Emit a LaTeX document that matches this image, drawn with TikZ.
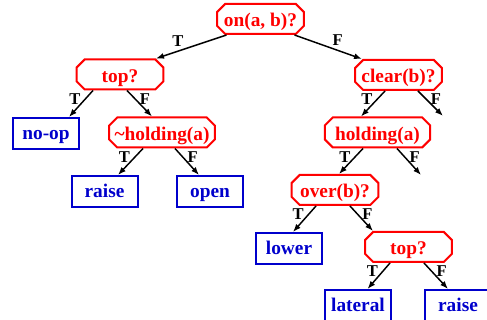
\documentclass[tikz,border=0pt]{standalone}
\usepackage{fontspec}
\setmainfont{Liberation Serif}
\usetikzlibrary{shapes.misc, arrows.meta, calc}
\definecolor{rosso}{RGB}{255,0,0}
\definecolor{blu}{RGB}{0,0,204}

\begin{document}
\begin{tikzpicture}[x=0.75pt, y=-0.75pt,
    test/.style={chamfered rectangle, chamfered rectangle xsep=3pt, chamfered rectangle ysep=3pt,
        draw=rosso, text=rosso, line width=1.5pt, minimum width=65pt, minimum height=22.5pt,
        inner xsep=1pt, inner ysep=1pt, text height=13pt, text depth=1pt,
        font=\fontsize{14.5}{16}\selectfont\bfseries},
    azione/.style={rectangle, draw=blu, text=blu, line width=1.5pt, minimum width=49.5pt,
        minimum height=23.25pt, text height=10pt, text depth=1pt,
        font=\fontsize{14.5}{16}\selectfont\bfseries},
    freccia/.style={-{Latex[length=6pt, width=4.5pt]}, line width=1.1pt},
    etich/.style={font=\fontsize{12.4}{14}\selectfont\bfseries, inner sep=2pt}]
    % Cornice
    \clip (0,0) rectangle (487,320);
    % Test
    \node[test] (radice) at (260.5,19) {on(a, b)?};
    \node[test] (top1) at (120,74.5) {top?};
    \node[test, minimum width=79pt] (nonheld) at (162,132.5) {\char`~holding(a)};
    \node[test] (clear) at (398.5,75) {clear(b)?};
    \node[test, minimum width=79pt] (held) at (377.5,132.5) {holding(a)};
    \node[test] (over) at (335,190) {over(b)?};
    \node[test] (top2) at (408.5,247) {top?};
    % Azioni
    \node[azione] (noop) at (46,133.5) {no-op};
    \node[azione] (raise1) at (104.5,191.5) {raise};
    \node[azione] (open) at (210,191.5) {open};
    \node[azione] (lower) at (289,248.5) {lower};
    \node[azione] (lateral) at (358,305.5) {lateral};
    \node[azione] (raise2) at (458,305.5) {raise};
    % Rami liberi
    \coordinate (clearF) at (443,116);
    \coordinate (heldF) at (421,175);
    % Rami
    \draw[freccia] ($(radice.south)+(-34,0)$) -- ($(top1.north)+(36,0)$) node[etich, pos=.69, above=1pt]{T};
    \draw[freccia] ($(radice.south)+(34,0)$) -- ($(clear.north)+(-36.5,0)$) node[etich, pos=.64, above=1pt]{F};
    \draw[freccia] ($(top1.south)+(-27,0)$) -- ($(noop.north)+(23,0)$) node[etich, pos=.33, left=1pt]{T};
    \draw[freccia] ($(top1.south)+(7,0)$) -- ($(nonheld.north)+(-10,0)$) node[etich, pos=.33, right=1pt]{F};
    \draw[freccia] ($(nonheld.south)+(-19,0)$) -- ($(raise1.north)+(13.5,0)$) node[etich, pos=.33, left=1pt]{T};
    \draw[freccia] ($(nonheld.south)+(13,0)$) -- ($(open.north)+(-11,0)$) node[etich, pos=.33, right=1pt]{F};
    \draw[freccia] ($(clear.south)+(-13.5,0)$) -- ($(held.north)+(-16.5,0)$) node[etich, pos=.33, left=1pt]{T};
    \draw[freccia] ($(clear.south)+(19.5,0)$) -- (clearF) node[etich, pos=.33, right=1pt]{F};
    \draw[freccia] ($(held.south)+(-14.5,0)$) -- ($(over.north)+(4,0)$) node[etich, pos=.33, left=1pt]{T};
    \draw[freccia] ($(held.south)+(19.5,0)$) -- (heldF) node[etich, pos=.33, right=1pt]{F};
    \draw[freccia] ($(over.south)+(-19,0)$) -- ($(lower.north)+(4,0)$) node[etich, pos=.33, left=1pt]{T};
    \draw[freccia] ($(over.south)+(15,0)$) -- ($(top2.north)+(-35.5,0)$) node[etich, pos=.33, right=1pt]{F};
    \draw[freccia] ($(top2.south)+(-18.5,0)$) -- ($(lateral.north)+(9.5,0)$) node[etich, pos=.33, left=1pt]{T};
    \draw[freccia] ($(top2.south)+(15.5,0)$) -- ($(raise2.north)+(-10,0)$) node[etich, pos=.33, right=1pt]{F};
\end{tikzpicture}
\end{document}
